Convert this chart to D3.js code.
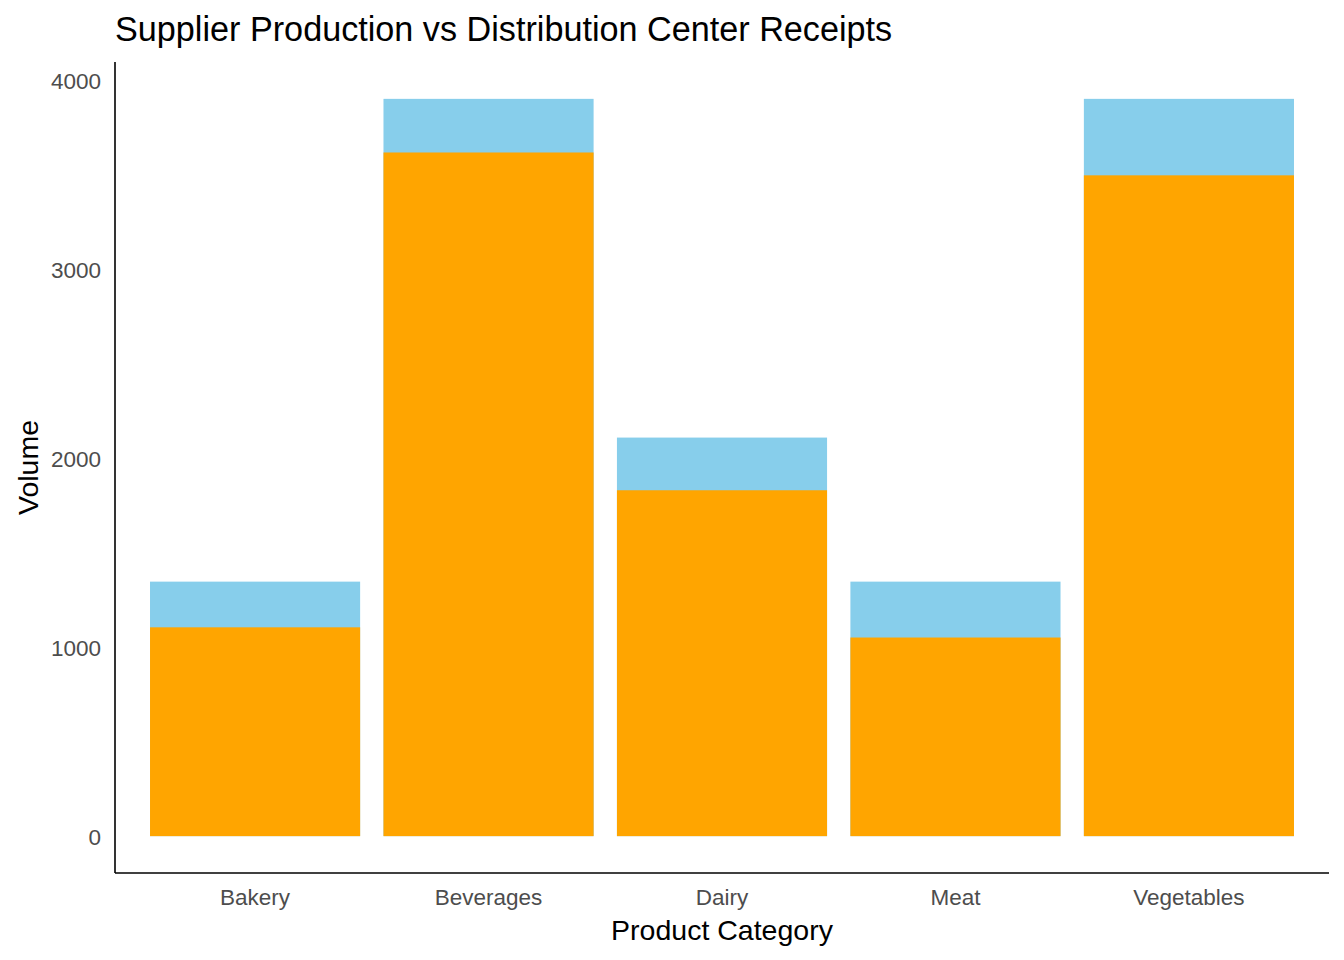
<!DOCTYPE html>
<html>
<head>
<meta charset="utf-8">
<script src="https://cdn.jsdelivr.net/npm/d3@7"></script>
<style>
  html, body { margin: 0; padding: 0; background: #fff; }
  svg { display: block; font-family: "Liberation Sans", Arial, sans-serif; }
</style>
</head>
<body>
<svg id="chart" width="1344" height="960"></svg>
<script>
const categories = ["Bakery", "Beverages", "Dairy", "Meat", "Vegetables"];
const production = [1348, 3905, 2111, 1348, 3905];
const receipts = [1106, 3621, 1832, 1052, 3500];
const yTicks = [0, 1000, 2000, 3000, 4000];

const svg = d3.select("#chart");
const plotLeft = 115, plotRight = 1329, plotTop = 62, plotBottom = 873;

const x = d3.scaleBand()
  .domain(categories)
  .range([plotLeft, plotRight])
  .paddingInner(0.1)
  .paddingOuter(0.15);

const maxV = d3.max(production.concat(receipts));
const exp = maxV * 0.05;
const y = d3.scaleLinear()
  .domain([-exp, maxV + exp])
  .range([plotBottom, plotTop]);

// production bars (behind)
svg.append("g").selectAll("rect")
  .data(categories)
  .join("rect")
  .attr("x", d => x(d))
  .attr("width", x.bandwidth())
  .attr("y", (d, i) => y(production[i]))
  .attr("height", (d, i) => y(0) - y(production[i]))
  .attr("fill", "#87CEEB");

// receipts bars (front)
svg.append("g").selectAll("rect")
  .data(categories)
  .join("rect")
  .attr("x", d => x(d))
  .attr("width", x.bandwidth())
  .attr("y", (d, i) => y(receipts[i]))
  .attr("height", (d, i) => y(0) - y(receipts[i]))
  .attr("fill", "#FFA500");

// axes
const yAxis = svg.append("g")
  .attr("transform", `translate(${plotLeft},0)`)
  .call(d3.axisLeft(y).tickValues(yTicks).tickSize(0).tickPadding(14).tickFormat(d3.format("d")));
yAxis.select(".domain").attr("stroke", "#000").attr("stroke-width", 1.6).attr("d", `M0,${plotBottom}V${plotTop}`);
yAxis.selectAll("text").attr("fill", "#4D4D4D").style("font-size", "22.5px").attr("dy", "0.35em");

const xAxis = svg.append("g")
  .attr("transform", `translate(0,${plotBottom})`)
  .call(d3.axisBottom(x).tickSize(0).tickPadding(16));
xAxis.select(".domain").attr("stroke", "#000").attr("stroke-width", 1.6).attr("d", `M${plotLeft},0H${plotRight}`);
xAxis.selectAll("text").attr("fill", "#4D4D4D").style("font-size", "22.5px").attr("dy", "0.71em");

// titles
svg.append("text")
  .attr("x", plotLeft)
  .attr("y", 41)
  .attr("fill", "#000")
  .style("font-size", "34.2px")
  .text("Supplier Production vs Distribution Center Receipts");

svg.append("text")
  .attr("x", (plotLeft + plotRight) / 2)
  .attr("y", 940)
  .attr("text-anchor", "middle")
  .attr("fill", "#000")
  .style("font-size", "28.5px")
  .text("Product Category");

svg.append("text")
  .attr("transform", `translate(38,${(plotTop + plotBottom) / 2}) rotate(-90)`)
  .attr("text-anchor", "middle")
  .attr("fill", "#000")
  .style("font-size", "28.5px")
  .text("Volume");
</script>
</body>
</html>
